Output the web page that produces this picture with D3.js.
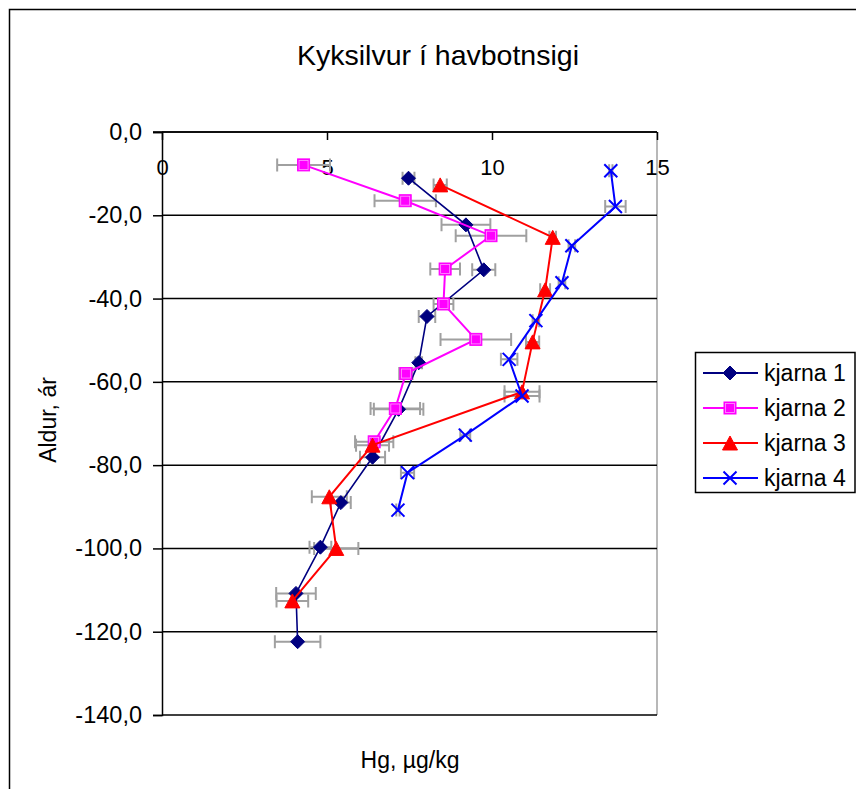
<!DOCTYPE html>
<html>
<head>
<meta charset="utf-8">
<script src="https://cdn.jsdelivr.net/npm/d3@7"></script>
<style>
  html, body { margin: 0; padding: 0; background: #fff; }
  svg { display: block; font-family: "Liberation Sans", Arial, sans-serif; }
</style>
</head>
<body>
<svg id="chart" width="856" height="789"></svg>
<script>
// ---- data ----
const title = "Kyksilvur í havbotnsigi";
const xTitle = "Hg, µg/kg";
const yTitle = "Aldur, ár";
const xTicks = [0, 5, 10, 15];
const yTicks = [0, -20, -40, -60, -80, -100, -120, -140];
const seriesNames = ["kjarna 1", "kjarna 2", "kjarna 3", "kjarna 4"];

const hg1   = [7.47, 9.21, 9.75, 8.03, 7.78, 7.17, 6.38, 5.42, 4.80, 4.06, 4.11];
const age1  = [-11.1, -22.3, -33.1, -44.3, -55.4, -66.6, -78.1, -89.0, -99.7, -110.8, -122.4];
const err1  = [0.18, 0.74, 0.35, 0.25, 0.1, 0.75, 0.38, 0.3, 0.33, 0.6, 0.69];

const hg2   = [4.29, 7.37, 9.97, 8.58, 8.53, 9.51, 7.39, 7.07, 6.43];
const age2  = [-7.9, -16.5, -24.9, -32.9, -41.3, -49.8, -58.0, -66.4, -74.4];
const err2  = [0.8, 0.93, 1.07, 0.45, 0.3, 1.07, 0.2, 0.75, 0.58];

const hg3   = [8.43, 11.84, 11.61, 11.23, 10.91, 6.38, 5.07, 5.28, 3.95];
const age3  = [-12.7, -25.3, -37.9, -50.4, -62.4, -75.2, -87.6, -100.0, -112.6];
const err3  = [0.2, 0.1, 0.15, 0.2, 0.53, 0.5, 0.53, 0.67, 0.48];

const hg4   = [13.6, 13.74, 12.42, 12.12, 11.33, 10.52, 10.91, 9.19, 7.44, 7.15];
const age4  = [-9.3, -17.9, -27.3, -36.2, -45.3, -54.6, -63.4, -72.8, -81.8, -90.8];
const err4  = [0.05, 0.31, 0.1, 0.1, 0.1, 0.25, 0.53, 0.15, 0.2, 0.05];

const colors = ["#000080", "#FF00FF", "#FF0000", "#0000FF"];
const markers = ["diamond", "square", "triangle", "cross"];

const series = [
  {name: seriesNames[0], hg: hg1, age: age1, err: err1},
  {name: seriesNames[1], hg: hg2, age: age2, err: err2},
  {name: seriesNames[2], hg: hg3, age: age3, err: err3},
  {name: seriesNames[3], hg: hg4, age: age4, err: err4}
].map((s, i) => ({...s, color: colors[i], marker: markers[i],
  points: s.hg.map((v, j) => ({x: v, y: s.age[j], e: s.err[j]}))}));

// ---- layout ----
const svg = d3.select("#chart");
const L = 162, R = 657, T = 132, B = 715;
const x = d3.scaleLinear().domain([0, 15]).range([L, R]);
const y = d3.scaleLinear().domain([0, -140]).range([T, B]);

// outer chart border
svg.append("rect").attr("x", 9.5).attr("y", 9.5).attr("width", 900).attr("height", 900)
  .attr("fill", "none").attr("stroke", "#000").attr("stroke-width", 1.5);

// title
svg.append("text").attr("x", 438).attr("y", 65).attr("text-anchor", "middle")
  .attr("font-size", 28.5).text(title);

// right plot border (gray)
svg.append("line").attr("x1", R).attr("x2", R).attr("y1", T).attr("y2", B)
  .attr("stroke", "#a0a0a0").attr("stroke-width", 1.5);

// horizontal gridlines
svg.append("g").selectAll("line").data(yTicks).join("line")
  .attr("x1", L).attr("x2", R).attr("y1", d => y(d)).attr("y2", d => y(d))
  .attr("stroke", "#000").attr("stroke-width", 1.5);

// y axis
const fmt = d => d.toFixed(1).replace(".", ",");
const yAxis = svg.append("g").attr("transform", `translate(${L},0)`)
  .call(d3.axisLeft(y).tickValues(yTicks).tickSize(9).tickPadding(11).tickFormat(fmt));
yAxis.selectAll("path.domain").attr("stroke", "#000").attr("stroke-width", 1.5);
yAxis.selectAll(".tick line").attr("stroke", "#000").attr("stroke-width", 1.5);
yAxis.selectAll(".tick text").attr("font-size", 23.5).attr("fill", "#000")
  .attr("font-family", "Liberation Sans, Arial, sans-serif");

// x axis (at top, ticks and labels pointing into the plot)
const xAxis = svg.append("g").attr("transform", `translate(0,${T})`)
  .call(d3.axisBottom(x).tickValues(xTicks).tickSize(8).tickPadding(19).tickFormat(d3.format("d")));
xAxis.selectAll("path.domain").attr("stroke", "#000").attr("stroke-width", 1.5)
  .attr("d", `M${L - 9},0H${R}`);
xAxis.selectAll(".tick line").attr("stroke", "#000").attr("stroke-width", 1.5);
xAxis.selectAll(".tick text").attr("font-size", 22).attr("fill", "#000")
  .attr("font-family", "Liberation Sans, Arial, sans-serif");

// axis titles
svg.append("text").attr("x", 410).attr("y", 768).attr("text-anchor", "middle")
  .attr("font-size", 23).text(xTitle);
svg.append("text").attr("transform", "translate(56,420) rotate(-90)")
  .attr("text-anchor", "middle").attr("font-size", 23).text(yTitle);

// error bars
const capH = 6.5;
const errG = svg.append("g").attr("stroke", "#a0a0a0").attr("stroke-width", 2).attr("fill", "none");
series.forEach(s => {
  s.points.forEach(p => {
    const x0 = x(p.x - p.e), x1 = x(p.x + p.e), yy = y(p.y);
    errG.append("path").attr("d",
      `M${x0},${yy}H${x1}M${x0},${yy - capH}V${yy + capH}M${x1},${yy - capH}V${yy + capH}`);
  });
});

// marker drawing
function drawMarker(g, type, cx, cy, color) {
  if (type === "diamond") {
    const r = 7;
    g.append("path").attr("d", `M${cx},${cy - r}L${cx + r},${cy}L${cx},${cy + r}L${cx - r},${cy}Z`)
      .attr("fill", color).attr("stroke", color).attr("stroke-width", 1);
  } else if (type === "square") {
    const h = 6;
    g.append("rect").attr("x", cx - h).attr("y", cy - h).attr("width", 2 * h).attr("height", 2 * h)
      .attr("fill", color).attr("stroke", color).attr("stroke-width", 1);
    g.append("rect").attr("x", cx - h + 1.5).attr("y", cy - h + 1.5).attr("width", 2 * h - 3).attr("height", 2 * h - 3)
      .attr("fill", "none").attr("stroke", "#ff9cff").attr("stroke-width", 0.8);
  } else if (type === "triangle") {
    const w = 7.5, hh = 7;
    g.append("path").attr("d", `M${cx},${cy - hh}L${cx + w},${cy + hh}L${cx - w},${cy + hh}Z`)
      .attr("fill", color).attr("stroke", color).attr("stroke-width", 1);
  } else if (type === "cross") {
    const r = 6.5;
    g.append("path").attr("d", `M${cx - r},${cy - r}L${cx + r},${cy + r}M${cx - r},${cy + r}L${cx + r},${cy - r}`)
      .attr("stroke", color).attr("stroke-width", 2).attr("fill", "none");
  }
}

// series lines + markers
const line = d3.line().x(d => x(d.x)).y(d => y(d.y));
series.forEach(s => {
  const g = svg.append("g");
  g.append("path").attr("d", line(s.points)).attr("fill", "none")
    .attr("stroke", s.color).attr("stroke-width", s.marker === "diamond" ? 1.6 : 2);
  s.points.forEach(p => drawMarker(g, s.marker, x(p.x), y(p.y), s.color));
});

// legend
const lg = svg.append("g");
lg.append("rect").attr("x", 695.5).attr("y", 352.5).attr("width", 159.5).attr("height", 140)
  .attr("fill", "#fff").attr("stroke", "#000").attr("stroke-width", 1.5);
const legendY = [373, 408, 443, 478];
series.forEach((s, i) => {
  const yy = legendY[i];
  lg.append("line").attr("x1", 703).attr("x2", 758).attr("y1", yy).attr("y2", yy)
    .attr("stroke", s.color).attr("stroke-width", 2);
  drawMarker(lg, s.marker, 730, yy, s.color);
  lg.append("text").attr("x", 764).attr("y", yy + 8).attr("font-size", 23).text(s.name);
});
</script>
</body>
</html>
